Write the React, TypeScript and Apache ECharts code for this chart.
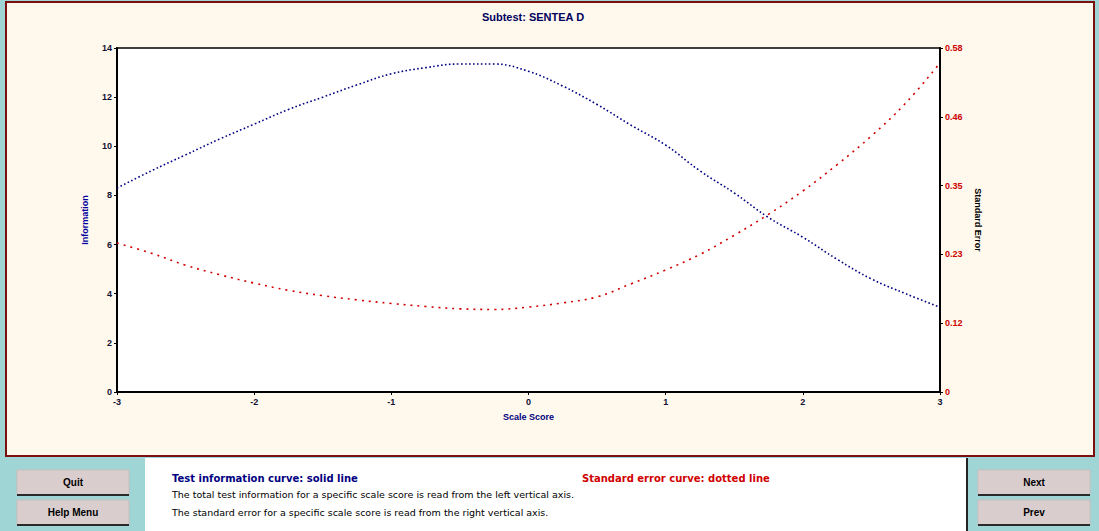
import React, { useEffect, useRef } from "react";
import * as echarts from "echarts";

const titleText = "Subtest: SENTEA D";
const xAxisName = "Scale Score";
const leftAxisName = "Information";
const rightAxisName = "Standard Error";

const scaleScores = [-3, -2.75, -2.5, -2.25, -2, -1.75, -1.5, -1.25, -1, -0.75, -0.5, -0.25, 0, 0.25, 0.5, 0.75, 1, 1.25, 1.5, 1.75, 2, 2.25, 2.5, 2.75, 3];
const information = [8.3, 9.0, 9.65, 10.3, 10.9, 11.5, 12.0, 12.5, 12.95, 13.2, 13.35, 13.35, 13.05, 12.45, 11.7, 10.85, 10.05, 9.0, 8.1, 7.1, 6.3, 5.4, 4.6, 4.0, 3.45];
const standardError = [0.249, 0.232, 0.212, 0.196, 0.182, 0.17, 0.161, 0.154, 0.148, 0.143, 0.139, 0.138, 0.142, 0.149, 0.159, 0.181, 0.204, 0.23, 0.262, 0.297, 0.336, 0.38, 0.428, 0.483, 0.55];

const seTickLabels = ["0", "0.12", "0.23", "0.35", "0.46", "0.58"];

const blueLegendText = "Test information curve: solid line";
const redLegendText = "Standard error curve: dotted line";
const infoLine1 = "The total test information for a specific scale score is read from the left vertical axis.";
const infoLine2 = "The standard error for a specific scale score is read from the right vertical axis.";
const leftButtons = ["Quit", "Help Menu"];
const rightButtons = ["Next", "Prev"];

const FONT = "'Liberation Sans', Arial, sans-serif";
const WIDE = "'DejaVu Sans', Verdana, sans-serif";

function button(label: string, x: number, y: number) {
  return {
    type: "group",
    x,
    y,
    children: [
      { type: "rect", shape: { x: 0, y: 0, width: 112, height: 25 }, style: { fill: "#DACDCD", stroke: "#C8BCBC", lineWidth: 1 } },
      { type: "line", shape: { x1: 0, y1: 25, x2: 112, y2: 25 }, style: { stroke: "#2a2a2a", lineWidth: 2 } },
      { type: "text", style: { x: 56, y: 12.5, text: label, fill: "#000", font: `bold 10px ${FONT}`, textAlign: "center", textVerticalAlign: "middle" } },
    ],
  };
}

export default function App() {
  const ref = useRef<HTMLDivElement>(null);
  useEffect(() => {
    if (!ref.current) return;
    const chart = echarts.init(ref.current, null, { renderer: "svg" });
    const option: any = {
      animation: false,
      backgroundColor: "#9FD5D4",
      title: {
        text: titleText,
        left: 528,
        textAlign: "center",
        top: 6,
        textStyle: { color: "#000060", fontSize: 11, fontWeight: "bold", fontFamily: FONT },
      },
      graphic: [
        { type: "rect", z: -10, shape: { x: 6, y: 2, width: 1088, height: 454 }, style: { fill: "#FFF8EC", stroke: "#7A1010", lineWidth: 2 } },
        { type: "rect", z: -10, shape: { x: 145, y: 458, width: 822, height: 73 }, style: { fill: "#FFFFFF" } },
        { type: "line", shape: { x1: 967, y1: 458, x2: 967, y2: 531 }, style: { stroke: "#222", lineWidth: 2 } },
        button(leftButtons[0], 17, 470),
        button(leftButtons[1], 17, 500),
        button(rightButtons[0], 978, 470),
        button(rightButtons[1], 978, 500),
        { type: "text", style: { x: 172, y: 478, text: blueLegendText, fill: "#000080", font: `bold 10px ${WIDE}`, textVerticalAlign: "middle" } },
        { type: "text", style: { x: 582, y: 478, text: redLegendText, fill: "#D00000", font: `bold 10px ${WIDE}`, textVerticalAlign: "middle" } },
        { type: "text", style: { x: 172, y: 494, text: infoLine1, fill: "#000", font: `9.5px ${WIDE}`, textVerticalAlign: "middle" } },
        { type: "text", style: { x: 172, y: 512, text: infoLine2, fill: "#000", font: `9.5px ${WIDE}`, textVerticalAlign: "middle" } },
      ],
      grid: {
        left: 117,
        right: 159,
        top: 48,
        bottom: 139,
        show: true,
        backgroundColor: "#FFFFFF",
        borderColor: "#000",
        borderWidth: 1.5,
      },
      xAxis: {
        type: "value",
        min: -3,
        max: 3,
        interval: 1,
        name: xAxisName,
        nameLocation: "middle",
        nameGap: 20,
        nameTextStyle: { color: "#000080", fontSize: 9, fontWeight: "bold", fontFamily: FONT },
        axisLine: { onZero: false, lineStyle: { color: "#000", width: 2 } },
        axisTick: { show: true, length: 3, lineStyle: { color: "#000" } },
        axisLabel: { color: "#111133", fontSize: 9, fontWeight: "bold", fontFamily: FONT, margin: 5 },
        splitLine: { show: false },
      },
      yAxis: [
        {
          type: "value",
          min: 0,
          max: 14,
          interval: 2,
          position: "left",
          name: leftAxisName,
          nameLocation: "middle",
          nameGap: 28,
          nameTextStyle: { color: "#0000A0", fontSize: 9, fontWeight: "bold", fontFamily: FONT },
          axisLine: { show: true, onZero: false, lineStyle: { color: "#000", width: 2 } },
          axisTick: { show: true, length: 3, lineStyle: { color: "#000" } },
          axisLabel: { color: "#111133", fontSize: 9, fontWeight: "bold", fontFamily: FONT, margin: 5 },
          splitLine: { show: false },
        },
        {
          type: "value",
          min: 0,
          max: 0.575,
          interval: 0.115,
          position: "right",
          name: rightAxisName,
          nameLocation: "middle",
          nameRotate: -90,
          nameGap: 31,
          nameTextStyle: { color: "#000", fontSize: 9, fontWeight: "bold", fontFamily: FONT },
          axisLine: { show: true, onZero: false, lineStyle: { color: "#000", width: 2 } },
          axisTick: { show: true, length: 3, lineStyle: { color: "#000" } },
          axisLabel: {
            color: "#CC0000",
            fontSize: 9,
            fontWeight: "bold",
            fontFamily: FONT,
            margin: 5,
            formatter: (_v: number, i: number) => seTickLabels[i] ?? "",
          },
          splitLine: { show: false },
        },
      ],
      series: [
        {
          type: "line",
          yAxisIndex: 0,
          data: scaleScores.map((x, i) => [x, information[i]]),
          smooth: 0.4,
          symbol: "none",
          lineStyle: { color: "#000080", width: 1.6, type: [1.6, 2.4] },
        },
        {
          type: "line",
          yAxisIndex: 1,
          data: scaleScores.map((x, i) => [x, standardError[i]]),
          smooth: 0.4,
          symbol: "none",
          lineStyle: { color: "#D00000", width: 1.6, type: [2, 5] },
        },
      ],
    };
    chart.setOption(option);
    return () => chart.dispose();
  }, []);
  return <div ref={ref} style={{ position: "fixed", left: 0, top: 0, width: 1099, height: 531 }} />;
}
